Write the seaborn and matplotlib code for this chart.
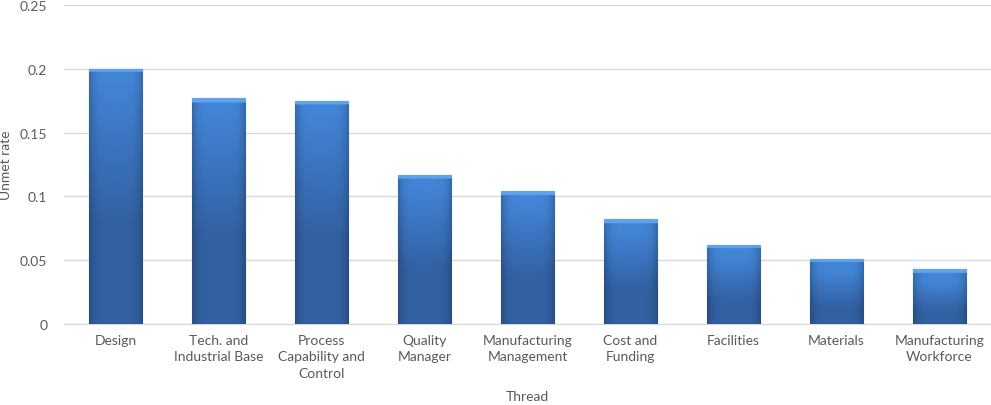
import numpy as np
import pandas as pd
import seaborn as sns
import matplotlib.pyplot as plt
from matplotlib.ticker import FuncFormatter, MultipleLocator

# data
threads = ['Design', 'Tech. and\nIndustrial Base', 'Process\nCapability and\nControl',
           'Quality\nManager', 'Manufacturing\nManagement', 'Cost and\nFunding',
           'Facilities', 'Materials', 'Manufacturing\nWorkforce']
unmet_rate = [0.200, 0.177, 0.175, 0.117, 0.104, 0.082, 0.062, 0.051, 0.043]

df = pd.DataFrame({'Thread': threads, 'Unmet rate': unmet_rate})

sns.set_style('white')
plt.rcParams['font.family'] = ['Lato', 'DejaVu Sans']
grey = '#595959'

fig = plt.figure(figsize=(9.91, 4.06), dpi=100)
ax = fig.add_axes([0.0646, 0.1995, 0.9354, 0.7855])
ax.yaxis.grid(True, color='#d9d9d9', linewidth=1, zorder=0)
ax.set_axisbelow(True)

sns.barplot(data=df, x='Thread', y='Unmet rate', color='#3a74c0', width=0.52,
            edgecolor='#2d5a94', linewidth=0.8, saturation=1, ax=ax, zorder=3)

# bevel-like gradient inside each bar
ny, nx = 200, 40
yy = np.linspace(0, 1, ny)[:, None]     # 0 = top, 1 = bottom
xx = np.linspace(-1, 1, nx)[None, :]
top = np.array([0.26, 0.52, 0.84])
bot = np.array([0.20, 0.38, 0.64])
shade = 1 - 0.2 * np.abs(xx) ** 5
for p in ax.patches:
    x0, y0 = p.get_x(), p.get_y()
    w, h = p.get_width(), p.get_height()
    depth = yy * h                        # distance from top in data units
    t = np.clip((depth - 0.01) / max(h * 0.55, 0.02), 0, 1)
    rgb = top[None, None, :] * (1 - t[..., None]) + bot[None, None, :] * t[..., None]
    rgb = rgb * shade[..., None]
    band = (depth < 0.003)[:, 0]
    rgb[band] = [0.38, 0.64, 0.93]
    rgb = np.clip(rgb, 0, 1)
    im = ax.imshow(rgb, extent=[x0, x0 + w, y0, y0 + h], aspect='auto',
                   interpolation='bilinear', zorder=4)
    im.set_clip_path(p)

ax.set_xlim(-0.5, len(threads) - 0.5)
ax.set_ylim(0, 0.25)
ax.yaxis.set_major_locator(MultipleLocator(0.05))
ax.yaxis.set_major_formatter(FuncFormatter(lambda v, _: f'{v:g}'))

for s in ['top', 'right', 'left']:
    ax.spines[s].set_visible(False)
ax.spines['bottom'].set_color('#d9d9d9')
ax.tick_params(axis='both', length=0, colors=grey, labelsize=10, pad=7)
ax.tick_params(axis='y', pad=12)
for lbl in ax.get_xticklabels():
    lbl.set_linespacing(1.45)

ax.set_xlabel('Thread', color=grey, fontsize=10, labelpad=8)
ax.set_ylabel('Unmet rate', color=grey, fontsize=10, labelpad=6)

fig.savefig('out.png', dpi=100)
